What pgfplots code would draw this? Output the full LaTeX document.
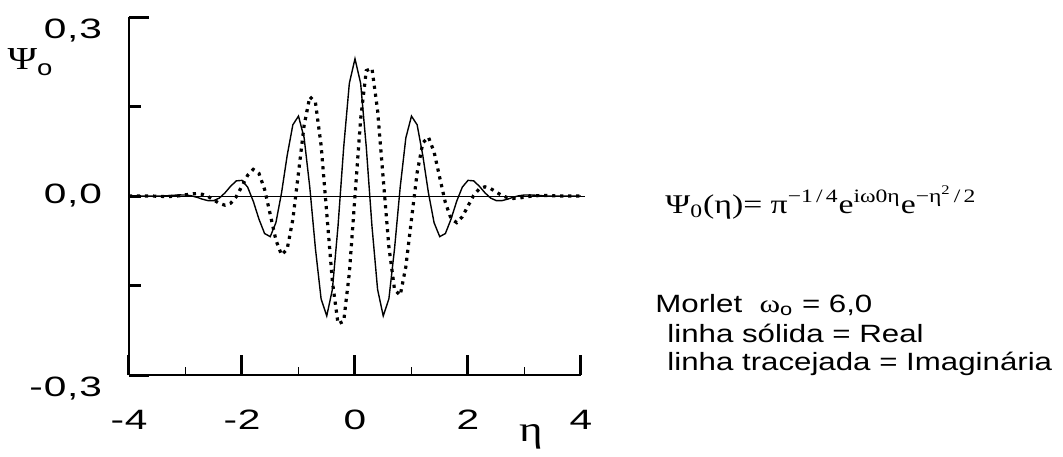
\documentclass[border=0pt]{standalone}
\usepackage{fontspec}
\setmainfont{Liberation Sans}[FakeStretch=1.25]
\newfontfamily\tickfont{Liberation Sans}[FakeStretch=1.45,LetterSpace=3]
\newfontfamily\grfont{Liberation Serif}[FakeStretch=1.25]
\usepackage{pgfplots}
\usepackage{pgfplotstable}
\pgfplotsset{compat=1.18}

\pgfplotstableread{
eta re im
-4.0 0 0
-3.8 0 0
-3.6 0 0
-3.5 -0.0003 -0.0004
-3.4 0.0000 -0.0007
-3.3 0.0006 -0.0008
-3.2 0.0013 -0.0005
-3.1 0.0018 0.0005
-3.0 0.0017 0.0020
-2.9 0.0004 0.0034
-2.8 -0.0021 0.0041
-2.7 -0.0053 0.0028
-2.6 -0.0078 -0.0008
-2.5 -0.0077 -0.0066
-2.4 -0.0034 -0.0125
-2.3 0.0054 -0.0154
-2.2 0.0165 -0.0121
-2.1 0.0254 -0.0009
-2.0 0.0262 0.0167
-1.9 0.0149 0.0347
-1.8 -0.0088 0.0446
-1.7 -0.0387 0.0379
-1.6 -0.0629 0.0111
-1.5 -0.0681 -0.0308
-1.4 -0.0448 -0.0738
-1.3 0.0053 -0.0987
-1.2 0.0681 -0.0889
-1.1 0.1193 -0.0391
-1.0 0.1339 0.0390
-0.9 0.0974 0.1185
-0.8 0.0146 0.1664
-0.7 -0.0883 0.1569
-0.6 -0.1723 0.0850
-0.5 -0.2010 -0.0286
-0.4 -0.1566 -0.1434
-0.3 -0.0500 -0.2141
-0.2 0.0817 -0.2101
-0.1 0.1889 -0.1292
0.0 0.2300 0
0.1 0.1889 0.1292
0.2 0.0817 0.2101
0.3 -0.0500 0.2141
0.4 -0.1566 0.1434
0.5 -0.2010 0.0286
0.6 -0.1723 -0.0850
0.7 -0.0883 -0.1569
0.8 0.0146 -0.1664
0.9 0.0974 -0.1185
1.0 0.1339 -0.0390
1.1 0.1193 0.0391
1.2 0.0681 0.0889
1.3 0.0053 0.0987
1.4 -0.0448 0.0738
1.5 -0.0681 0.0308
1.6 -0.0629 -0.0111
1.7 -0.0387 -0.0379
1.8 -0.0088 -0.0446
1.9 0.0149 -0.0347
2.0 0.0262 -0.0167
2.1 0.0254 0.0009
2.2 0.0165 0.0121
2.3 0.0054 0.0154
2.4 -0.0034 0.0125
2.5 -0.0077 0.0066
2.6 -0.0078 0.0008
2.7 -0.0053 -0.0028
2.8 -0.0021 -0.0041
2.9 0.0004 -0.0034
3.0 0.0017 -0.0020
3.1 0.0018 -0.0005
3.2 0.0013 0.0005
3.3 0.0006 0.0008
3.4 0.0000 0.0007
3.5 -0.0003 0.0004
3.6 0 0
3.8 0 0
4.0 0 0
}\morlet

\begin{document}
\begin{tikzpicture}
\path[use as bounding box] (-64.5pt,-40.5pt) rectangle (467pt,187.5pt);
\begin{axis}[
  at={(0pt,0pt)}, anchor=south west,
  scale only axis, width=226pt, height=179pt,
  xmin=-4, xmax=4, ymin=-0.3, ymax=0.3,
  axis x line*=bottom, axis y line*=left,
  axis line style={line width=1.35pt, black},
  clip=false,
  tick align=inside,
  xtick={-4,-2,0,2,4},
  xticklabels={-4,-2,0,2,4},
  minor xtick={-3,-1,1,3},
  ytick={-0.3,0.3},
  yticklabels={{-0,3},{0,3}},
  extra y ticks={-0.15,0,0.15},
  extra y tick labels={{},{0,0},{}},
  major tick length=10pt, minor tick length=4pt,
  every major tick/.append style={line width=1.5pt, black},
  every minor tick/.append style={line width=0.5pt, black},
  extra y tick style={major tick length=6pt, yticklabel style={yshift=7pt}},
  tick label style={font=\tickfont\fontsize{14}{16}\selectfont},
  xticklabel style={anchor=base, yshift=-27pt},
  yticklabel style={anchor=east, xshift=-10pt, yshift=-7pt},
]
\addplot[black, line width=0.5pt] coordinates {(-4,0) (4.07,0)};
\addplot[black, line width=0.7pt] table[x=eta, y=re] {\morlet};
\addplot[black, line width=1.6pt, dash pattern=on 1.6pt off 2.4pt] table[x=eta, y=im] {\morlet};
\end{axis}
\node[anchor=center] at (-49.5pt,156.5pt) {\grfont\fontsize{16}{16}\selectfont Ψ\raisebox{-3pt}{\normalfont\fontsize{11}{11}\selectfont o}};
\node[anchor=center] at (201pt,-31pt) {\grfont\fontsize{18}{18}\selectfont η};
\node[anchor=base west, inner sep=0pt] at (268pt,81pt) {\grfont\fontsize{13.5}{14}\selectfont Ψ\textsubscript{0}(η)= π\textsuperscript{−1\,/\,4}e\textsuperscript{iω0η}e\textsuperscript{−η\textsuperscript{2}\,/\,2}};
\node[anchor=base west, inner sep=0pt] at (263pt,31.5pt) {\fontsize{12.5}{14}\selectfont Morlet\ \ {\grfont ω}\textsubscript{o} = 6,0};
\node[anchor=base west, inner sep=0pt] at (269pt,16.5pt) {\fontsize{12.5}{14}\selectfont linha sólida = Real};
\node[anchor=base west, inner sep=0pt] at (269pt,2.5pt) {\fontsize{12.5}{14}\selectfont linha tracejada = Imaginária};
\end{tikzpicture}
\end{document}
